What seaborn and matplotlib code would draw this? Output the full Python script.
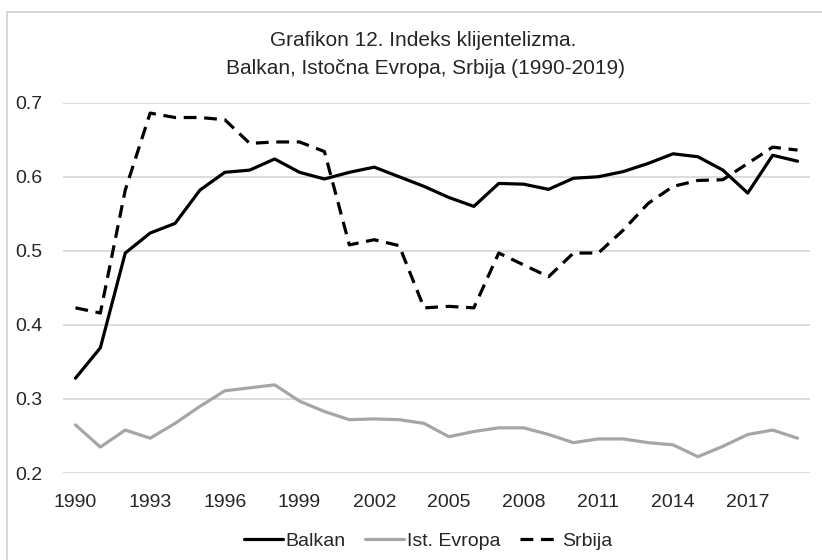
import numpy as np
import pandas as pd
import matplotlib.pyplot as plt
import seaborn as sns
from matplotlib.patches import Rectangle

# data
years = list(range(1990, 2020))
balkan = [0.328, 0.369, 0.497, 0.524, 0.537, 0.582, 0.606, 0.609, 0.624, 0.606,
          0.597, 0.606, 0.613, 0.600, 0.587, 0.572, 0.560, 0.591, 0.590, 0.583,
          0.598, 0.600, 0.607, 0.618, 0.631, 0.627, 0.609, 0.578, 0.629, 0.621]
ist_evropa = [0.265, 0.235, 0.258, 0.247, 0.267, 0.290, 0.311, 0.315, 0.319, 0.297,
              0.283, 0.272, 0.273, 0.272, 0.267, 0.249, 0.256, 0.261, 0.261, 0.252,
              0.241, 0.246, 0.246, 0.241, 0.238, 0.222, 0.236, 0.252, 0.258, 0.247]
srbija = [0.423, 0.416, 0.582, 0.686, 0.680, 0.680, 0.677, 0.645, 0.647, 0.647,
          0.634, 0.508, 0.515, 0.507, 0.423, 0.425, 0.423, 0.497, 0.481, 0.465,
          0.497, 0.497, 0.528, 0.564, 0.587, 0.595, 0.596, 0.618, 0.640, 0.636]
series = ['Balkan', 'Ist. Evropa', 'Srbija']
xticks = list(range(1990, 2018, 3))
yticks = [0.2, 0.3, 0.4, 0.5, 0.6, 0.7]

df = pd.DataFrame({'year': years * 3,
                   'value': balkan + ist_evropa + srbija,
                   'serija': [s for s in series for _ in years]})

sns.set_style('white')
plt.rcParams['font.family'] = ['Liberation Sans Narrow', 'Liberation Sans']

fig = plt.figure(figsize=(8.22, 5.6), dpi=100)
# light frame around the chart
fig.patches.append(Rectangle((7 / 822, -0.1), 1.2, 1 - 12 / 560 + 0.1, transform=fig.transFigure,
                             fill=False, edgecolor='#d0d0d0', linewidth=1.2))
ax = fig.add_axes([63 / 822, 1 - 473 / 560, (810 - 63) / 822, (473 - 102.7) / 560])

palette = {'Balkan': 'black', 'Ist. Evropa': '#a6a6a6', 'Srbija': 'black'}
dashes = {'Balkan': '', 'Ist. Evropa': '', 'Srbija': (4, 2.4)}
sns.lineplot(data=df, x='year', y='value', hue='serija', style='serija',
             palette=palette, dashes=dashes, linewidth=2.3, legend=False, ax=ax)

ax.set_xlim(1989.5, 2019.5)
ax.set_ylim(0.2, 0.7)
ax.set_xticks(xticks)
ax.set_yticks(yticks)
ax.set_yticklabels([f'{v:.1f}' for v in yticks])
ax.set_xlabel('')
ax.set_ylabel('')
ax.grid(axis='y', color='#d9d9d9', linewidth=1.3)
ax.set_axisbelow(True)
for s in ax.spines.values():
    s.set_visible(False)
ax.tick_params(axis='both', length=0, labelsize=14)
ax.tick_params(axis='y', pad=15)
ax.tick_params(axis='x', pad=15)

fig.text(423 / 822, 1 - 40 / 560, 'Grafikon 12. Indeks klijentelizma.', ha='center', va='center', fontsize=15)
fig.text(425 / 822, 1 - 68 / 560, 'Balkan, Istočna Evropa, Srbija (1990-2019)', ha='center', va='center', fontsize=15)

handles = ax.get_lines()[:3]
fig.legend(handles, series, loc='center', bbox_to_anchor=(428 / 822, 1 - 541 / 560), ncol=3,
           frameon=False, fontsize=14, handlelength=2.0, handletextpad=0.15, columnspacing=1.0)

fig.savefig('out.png', dpi=100)
